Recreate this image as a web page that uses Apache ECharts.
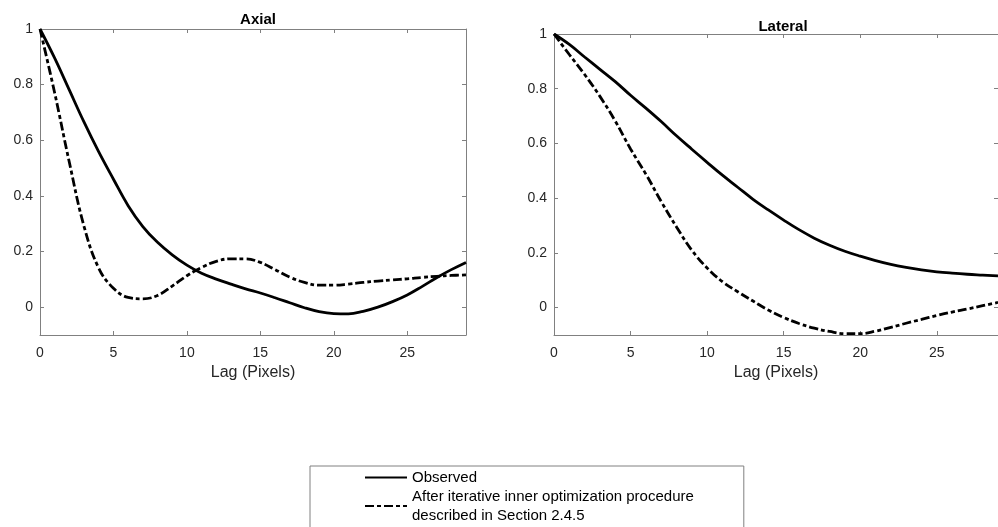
<!DOCTYPE html>
<html>
<head>
<meta charset="utf-8">
<script src="https://cdn.jsdelivr.net/npm/echarts@6/dist/echarts.min.js"></script>
<style>
    html, body { margin: 0; padding: 0; background: #fff; }
    #chart { width: 998px; height: 527px; }
</style>
</head>
<body>
<div id="chart"></div>
<script>
    // lag in pixels
    var lags = [0, 1, 2, 3, 4, 5, 6, 7, 8, 9, 10, 11, 12, 13, 14, 15, 16, 17, 18, 19, 20, 21, 22, 23, 24, 25, 26, 27, 28, 29]

    var axialObserved = [1.0, 0.895, 0.78, 0.665, 0.558, 0.46, 0.365, 0.29, 0.233, 0.188, 0.151, 0.122, 0.101, 0.083, 0.066, 0.051,
        0.034, 0.016, -0.002, -0.016, -0.023, -0.024, -0.015, 0.0, 0.02, 0.044, 0.074, 0.106, 0.135, 0.161]
    var axialOptimized = [1.0, 0.77, 0.52, 0.29, 0.14, 0.068, 0.035, 0.03, 0.042, 0.076, 0.113, 0.143, 0.165, 0.174, 0.174, 0.161,
        0.135, 0.108, 0.089, 0.079, 0.079, 0.083, 0.089, 0.094, 0.098, 0.102, 0.107, 0.111, 0.114, 0.116]

    var lateralObserved = [1.0, 0.962, 0.916, 0.871, 0.826, 0.776, 0.729, 0.68, 0.628, 0.579, 0.531, 0.484, 0.44, 0.396, 0.357, 0.32,
        0.285, 0.254, 0.228, 0.206, 0.188, 0.172, 0.158, 0.147, 0.138, 0.131, 0.126, 0.122, 0.119, 0.116]
    var lateralOptimized = [1.0, 0.925, 0.852, 0.772, 0.682, 0.58, 0.488, 0.388, 0.295, 0.21, 0.145, 0.095, 0.058, 0.024, -0.009, -0.036,
        -0.058, -0.075, -0.087, -0.095, -0.095, -0.086, -0.072, -0.057, -0.043, -0.029, -0.016, -0.005, 0.007, 0.019]

    var xTicks = [0, 5, 10, 15, 20, 25]
    var yTicks = [0, 0.2, 0.4, 0.6, 0.8, 1]

    var seriesNames = ['Observed', 'After iterative inner optimization procedure\ndescribed in Section 2.4.5']
    var panelTitles = ['Axial', 'Lateral']

    function pairs(ys) {
        return lags.map(function (x, i) { return [x, ys[i]] })
    }

    var axisColor = '#808080'
    var labelColor = '#262626'
    var font = 'Liberation Sans, Arial, Helvetica, sans-serif'

    function xAxes(gridIndex) {
        var bottom = {
            type: 'value', gridIndex: gridIndex, min: 0, max: 29, position: 'bottom',
            name: 'Lag (Pixels)', nameLocation: 'middle', nameGap: 29,
            nameTextStyle: { fontSize: 16, color: labelColor, fontFamily: font },
            axisLine: { onZero: false, lineStyle: { color: axisColor, width: 1 } },
            axisTick: { inside: true, length: 4, lineStyle: { color: axisColor }, customValues: xTicks },
            axisLabel: { fontSize: 14, color: labelColor, fontFamily: font, margin: 11, customValues: xTicks },
            splitLine: { show: false }
        }
        var top = {
            type: 'value', gridIndex: gridIndex, min: 0, max: 29, position: 'top',
            axisLine: { onZero: false, lineStyle: { color: axisColor, width: 1 } },
            axisTick: { inside: true, length: 4, lineStyle: { color: axisColor }, customValues: xTicks },
            axisLabel: { show: false },
            splitLine: { show: false }
        }
        return [bottom, top]
    }

    function yAxes(gridIndex) {
        var left = {
            type: 'value', gridIndex: gridIndex, min: -0.1, max: 1, position: 'left',
            axisLine: { show: true, onZero: false, lineStyle: { color: axisColor, width: 1 } },
            axisTick: { show: true, inside: true, length: 4, lineStyle: { color: axisColor }, customValues: yTicks },
            axisLabel: { fontSize: 14, color: labelColor, fontFamily: font, margin: 7, customValues: yTicks },
            splitLine: { show: false }
        }
        var right = {
            type: 'value', gridIndex: gridIndex, min: -0.1, max: 1, position: 'right',
            axisLine: { show: true, onZero: false, lineStyle: { color: axisColor, width: 1 } },
            axisTick: { show: true, inside: true, length: 4, lineStyle: { color: axisColor }, customValues: yTicks },
            axisLabel: { show: false },
            splitLine: { show: false }
        }
        return [left, right]
    }

    function line(name, data, idx, dashed) {
        return {
            name: name,
            type: 'line',
            xAxisIndex: idx * 2,
            yAxisIndex: idx * 2,
            data: pairs(data),
            smooth: 0.4,
            symbol: 'none',
            color: '#000',
            lineStyle: { color: '#000', width: 2.8, type: dashed ? [9, 3, 4, 3] : 'solid' },
            z: dashed ? 3 : 4
        }
    }

    var chart = echarts.init(document.getElementById('chart'), null, { renderer: 'canvas' })

    chart.setOption({
        animation: false,
        backgroundColor: '#fff',
        title: [
            { text: panelTitles[0], left: 253, top: 7, textAlign: 'center',
              textStyle: { fontSize: 15, fontWeight: 'bold', color: '#000', fontFamily: font } },
            { text: panelTitles[1], left: 778, top: 14, textAlign: 'center',
              textStyle: { fontSize: 15, fontWeight: 'bold', color: '#000', fontFamily: font } }
        ],
        grid: [
            { left: 40, top: 29, width: 426, height: 306 },
            { left: 554, top: 34, width: 448, height: 301 }
        ],
        xAxis: xAxes(0).concat(xAxes(1)),
        yAxis: yAxes(0).concat(yAxes(1)),
        legend: {
            data: seriesNames,
            orient: 'vertical',
            left: 310,
            top: 466,
            height: 120,
            padding: [2, 50, 30, 54],
            itemWidth: 42,
            itemHeight: 14,
            itemGap: 0,
            itemStyle: { opacity: 0 },
            borderColor: axisColor,
            borderWidth: 1,
            textStyle: { fontSize: 15, color: '#000', fontFamily: font, lineHeight: 19 }
        },
        series: [
            line(seriesNames[0], axialObserved, 0, false),
            line(seriesNames[1], axialOptimized, 0, true),
            line(seriesNames[0], lateralObserved, 1, false),
            line(seriesNames[1], lateralOptimized, 1, true)
        ]
    })
</script>
</body>
</html>
